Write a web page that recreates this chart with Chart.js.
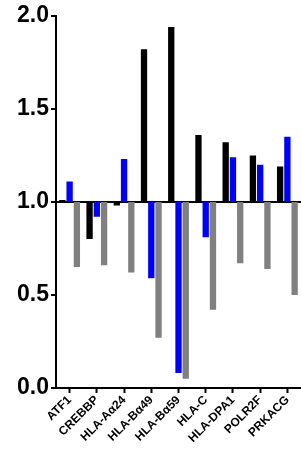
<!DOCTYPE html>
<html>
<head>
<meta charset="utf-8">
<script src="https://cdn.jsdelivr.net/npm/chart.js@4/dist/chart.umd.min.js"></script>
<style>
html,body{margin:0;padding:0;background:#fff;}
#wrap{width:301px;height:450px;}
</style>
</head>
<body>
<div id="wrap"><canvas id="c" width="301" height="450"></canvas></div>
<script>
const categories = ["ATF1","CREBBP","HLA-A\u03B124","HLA-B\u03B149","HLA-B\u03B159","HLA-C","HLA-DPA1","POLR2F","PRKACG"];
const blackValues = [1.01, 0.80, 0.98, 1.82, 1.94, 1.36, 1.32, 1.25, 1.19];
const blueValues  = [1.11, 0.92, 1.23, 0.59, 0.08, 0.81, 1.24, 1.20, 1.35];
const grayValues  = [0.65, 0.66, 0.62, 0.27, 0.05, 0.42, 0.67, 0.64, 0.50];
const baseline = 1.0;
const yTicks = [0, 0.5, 1.0, 1.5, 2.0];

const fromBase = arr => arr.map(v => [baseline, v]);
const font = "'Liberation Sans', Arial, sans-serif";

new Chart(document.getElementById('c'), {
  type: 'bar',
  data: {
    labels: categories,
    datasets: [
      {data: fromBase(blackValues), backgroundColor: '#000000', borderSkipped: false},
      {data: fromBase(blueValues), backgroundColor: '#0000ff', borderSkipped: false},
      {data: fromBase(grayValues), backgroundColor: '#808080', borderSkipped: false}
    ]
  },
  options: {
    responsive: false,
    animation: false,
    devicePixelRatio: 1,
    categoryPercentage: 0.8,
    barPercentage: 0.87,
    layout: {padding: {top: 15, right: 0, left: 0, bottom: 0}},
    plugins: {legend: {display: false}, tooltip: {enabled: false}},
    scales: {
      x: {
        offset: true,
        grid: {offset: false, drawOnChartArea: false, color: '#000', tickLength: 5, tickWidth: 2},
        border: {color: '#000', width: 2},
        ticks: {
          color: '#000', minRotation: 45, maxRotation: 45, autoSkip: false, padding: 0,
          font: {family: font, size: 12, weight: 'bold'}
        },
        afterFit: s => { s.height = 62; }
      },
      y: {
        min: 0, max: 2,
        afterBuildTicks: s => { s.ticks = yTicks.map(v => ({value: v})); },
        grid: {
          color: ctx => (ctx.tick && ctx.tick.value === baseline) ? '#000' : 'rgba(0,0,0,0)',
          lineWidth: 2, tickColor: '#000', tickLength: 5, tickWidth: 2, drawOnChartArea: true
        },
        border: {color: '#000', width: 2},
        ticks: {
          color: '#000', padding: 2,
          font: {family: font, size: 23, weight: 'bold'},
          callback: v => Number(v).toFixed(1)
        },
        afterFit: s => { s.width = 56; }
      }
    }
  }
});
</script>
</body>
</html>
